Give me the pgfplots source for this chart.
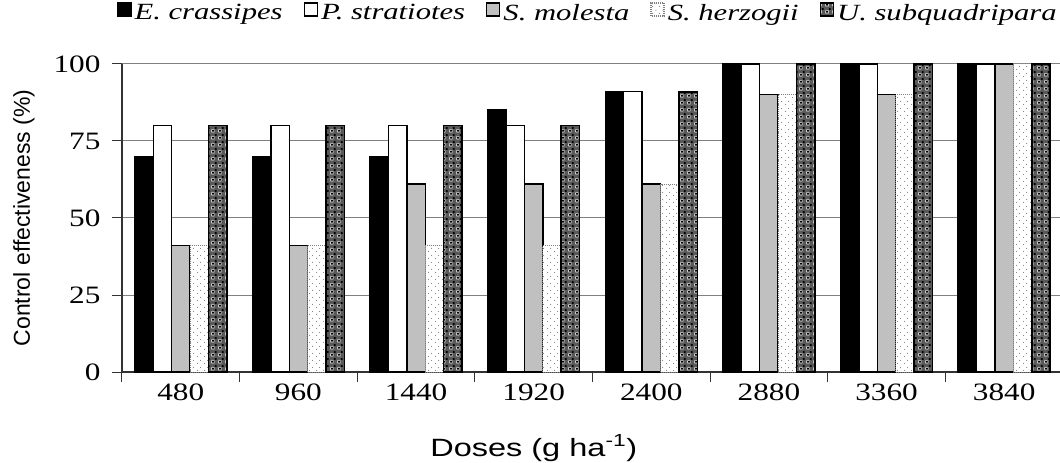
\documentclass[border=0pt]{standalone}
\usepackage{fontspec}
\usepackage{pgfplots}
\pgfplotsset{compat=1.18}
\usetikzlibrary{patterns}
\setmainfont{Liberation Serif}
\newfontfamily\serifS[FakeStretch=1.25]{Liberation Serif}
\newfontfamily\serifL[FakeStretch=1.32]{Liberation Serif}
\newfontfamily\sansS[FakeStretch=1.3]{Liberation Sans}
\newfontfamily\sansN{Liberation Sans}
\definecolor{silv}{HTML}{C0C0C0}
\pgfdeclarepatternformonly{sparsedots}{\pgfqpoint{0pt}{0pt}}{\pgfqpoint{7pt}{7pt}}{\pgfqpoint{7pt}{7pt}}{%
  \pgfpathcircle{\pgfqpoint{1.75pt}{1.75pt}}{0.6pt}%
  \pgfpathcircle{\pgfqpoint{5.25pt}{5.25pt}}{0.6pt}%
  \pgfusepath{fill}}
\pgfdeclarepatternformonly{whitesq}{\pgfqpoint{0pt}{0pt}}{\pgfqpoint{6.6pt}{6.6pt}}{\pgfqpoint{6.6pt}{6.6pt}}{%
  \pgfpathrectangle{\pgfqpoint{0.5pt}{0.7pt}}{\pgfqpoint{3.2pt}{3.2pt}}%
  \pgfusepath{fill}}
\pgfdeclarepatternformonly{blacksq}{\pgfqpoint{0pt}{0pt}}{\pgfqpoint{6.6pt}{6.6pt}}{\pgfqpoint{6.6pt}{6.6pt}}{%
  \pgfpathrectangle{\pgfqpoint{1.3pt}{1.5pt}}{\pgfqpoint{1.8pt}{1.8pt}}%
  \pgfpathrectangle{\pgfqpoint{4.2pt}{4.4pt}}{\pgfqpoint{1.8pt}{1.8pt}}%
  \pgfusepath{fill}}
\begin{document}
\begin{tikzpicture}
\begin{axis}[
  at={(0pt,0pt)}, anchor=south west,
  scale only axis, width=941pt, height=308pt,
  xmin=-0.5, xmax=7.5, ymin=0, ymax=100,
  axis lines*=left,
  axis line style={black!80, line width=1.2pt},
  ybar=0pt, bar width=18.4pt,
  xtick={-0.5,0.5,...,7.5},
  xticklabels={480,960,1440,1920,2400,2880,3360,3840},
  x tick label as interval,
  ytick={0,25,50,75,100},
  tick align=outside,
  major tick length=10pt,
  tick style={black!80, line width=1pt},
  ymajorgrids,
  grid style={gray, line width=1pt},
  /pgf/number format/assume math mode=true,
  ticklabel style={font=\serifS\fontsize{25}{28}\selectfont},
  xticklabel style={inner sep=0pt, yshift=-2pt},
  yticklabel style={xshift=-8pt},
  every axis x label/.style={at={(axis cs:3,0)}, anchor=base, yshift=-84pt},
  every axis y label/.style={at={(rel axis cs:0,0.5)}, xshift=-98pt, rotate=90, anchor=center},
  xlabel={\sansS\fontsize{25}{28}\selectfont Doses (g ha\textsuperscript{-1})},
  ylabel={\sansN\fontsize{23}{26}\selectfont Control effectiveness (\%)},
  legend style={draw=none, fill=none, at={(0,1)}, anchor=south west, xshift=-5pt, yshift=42pt,
    legend columns=-1, inner sep=0pt, nodes={inner sep=0pt},
    font=\serifL\itshape\fontsize{23.2}{26}\selectfont,
    /tikz/every odd column/.append style={column sep=3pt},
    /tikz/every even column/.append style={column sep=21pt}},
  legend cell align=left,
  legend image code/.code={\draw[#1, line width=1.4pt] (0pt,-3pt) rectangle (13pt,10pt);},
  clip=false,
]
\addplot[fill=black, draw=black, line width=1.4pt] coordinates {(0,70) (1,70) (2,70) (3,85) (4,91) (5,100) (6,100) (7,100)};
\addplot[fill=white, draw=black, line width=1.4pt] coordinates {(0,80) (1,80) (2,80) (3,80) (4,91) (5,100) (6,100) (7,100)};
\addplot[fill=silv, draw=black, line width=1.4pt] coordinates {(0,41) (1,41) (2,61) (3,61) (4,61) (5,90) (6,90) (7,100)};
\addplot[fill=white, draw=gray, densely dotted, line width=1pt, postaction={pattern=sparsedots, pattern color=gray}] coordinates {(0,41) (1,41) (2,41) (3,41) (4,61) (5,90) (6,90) (7,100)};
\addplot[fill=black!65, draw=black, line width=1.6pt, postaction={pattern=whitesq, pattern color=white}, postaction={pattern=blacksq, pattern color=black}] coordinates {(0,80) (1,80) (2,80) (3,80) (4,91) (5,100) (6,100) (7,100)};
\legend{E. crassipes, P. stratiotes, S. molesta, S. herzogii, U. subquadripara}
\end{axis}
\pgfresetboundingbox
\path (-122pt,-91pt) rectangle (938pt,372pt);
\end{tikzpicture}
\end{document}
